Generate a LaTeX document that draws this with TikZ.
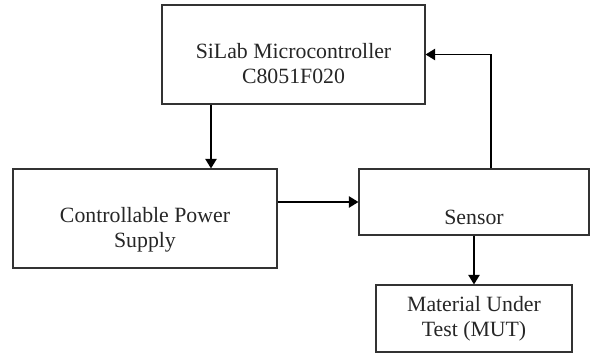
\documentclass[tikz,border=0pt]{standalone}
\usepackage{fontspec}
\setmainfont{Liberation Serif}
\usetikzlibrary{arrows.meta}

\begin{document}
\begin{tikzpicture}[
  box/.style={draw=black!80, line width=0.65pt, inner sep=0pt},
  lbl/.style={align=center, text=black!85, font=\fontsize{12.4}{14.2}\selectfont},
  arr/.style={line width=0.9pt, -{Triangle[length=5.5pt,width=6.5pt]}}
]
\useasboundingbox (0,0) rectangle (11.88,7.12);
\node[box, minimum width=5.26cm, minimum height=1.98cm] (mcu) at (5.87,6.03) {};
\node[box, minimum width=5.28cm, minimum height=1.98cm] (cps) at (2.90,2.75) {};
\node[box, minimum width=4.60cm, minimum height=1.32cm] (sensor) at (9.48,3.08) {};
\node[box, minimum width=3.92cm, minimum height=1.34cm] (mut) at (9.48,0.75) {};
\node[lbl, yshift=-0.19cm] (mcutxt) at (mcu) {SiLab Microcontroller\\C8051F020};
\node[lbl, yshift=-0.22cm] (cpstxt) at (cps) {Controllable Power\\Supply};
\node[lbl, yshift=-0.30cm] (sensortxt) at (sensor) {Sensor};
\node[lbl] (muttxt) at (mut) {Material Under\\Test (MUT)};
\coordinate (dn) at (4.22,0);
\coordinate (fb) at (9.82,0);
\draw[arr] (mcu.south -| dn) -- (cps.north -| dn);
\draw[arr] (sensor.west -| cps.east) -- (sensor.west);
\draw[arr] (sensor.south) -- (mut.north);
\draw[arr] (sensor.north -| fb) |- (mcu.east);
\end{tikzpicture}
\end{document}
